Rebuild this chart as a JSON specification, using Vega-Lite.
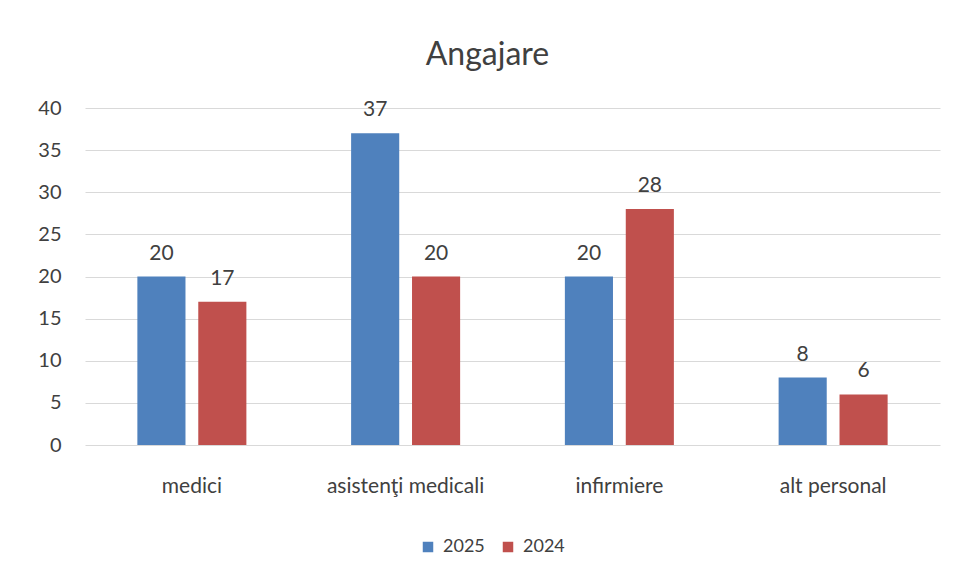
{
  "$schema": "https://vega.github.io/schema/vega-lite/v6.json",
  "width": 855,
  "height": 337,
  "autosize": "none",
  "padding": {"left": 85, "top": 108, "right": 16, "bottom": 135},
  "background": "white",
  "title": {
    "text": "Angajare",
    "font": "Lato",
    "fontSize": 32,
    "fontWeight": "normal",
    "color": "#404040",
    "anchor": "middle",
    "dx": -25,
    "offset": 26
  },
  "data": {
    "values": [
      {"categorie": "medici", "an": "2025", "valoare": 20},
      {"categorie": "medici", "an": "2024", "valoare": 17},
      {"categorie": "asistenţi medicali", "an": "2025", "valoare": 37},
      {"categorie": "asistenţi medicali", "an": "2024", "valoare": 20},
      {"categorie": "infirmiere", "an": "2025", "valoare": 20},
      {"categorie": "infirmiere", "an": "2024", "valoare": 28},
      {"categorie": "alt personal", "an": "2025", "valoare": 8},
      {"categorie": "alt personal", "an": "2024", "valoare": 6}
    ]
  },
  "encoding": {
    "x": {
      "field": "categorie",
      "type": "nominal",
      "sort": ["medici", "asistenţi medicali", "infirmiere", "alt personal"],
      "scale": {"paddingInner": 0.49, "paddingOuter": 0.245},
      "axis": {
        "title": null,
        "labelAngle": 0,
        "labelFont": "Lato",
        "labelFontSize": 21,
        "labelColor": "#404040",
        "labelPadding": 30,
        "ticks": false,
        "domain": false
      }
    },
    "xOffset": {
      "field": "an",
      "type": "nominal",
      "sort": ["2025", "2024"],
      "scale": {"paddingInner": 0.21, "paddingOuter": 0}
    },
    "y": {
      "field": "valoare",
      "type": "quantitative",
      "scale": {"domain": [0, 40]},
      "axis": {
        "title": null,
        "values": [0, 5, 10, 15, 20, 25, 30, 35, 40],
        "labelFont": "Lato",
        "labelFontSize": 20,
        "labelColor": "#404040",
        "labelPadding": 24,
        "ticks": false,
        "domain": false,
        "gridColor": "#D9D9D9",
        "gridWidth": 1
      }
    }
  },
  "layer": [
    {
      "mark": {"type": "bar", "stroke": null},
      "encoding": {
        "color": {
          "field": "an",
          "type": "nominal",
          "sort": ["2025", "2024"],
          "scale": {"domain": ["2025", "2024"], "range": ["#4F81BD", "#C0504D"]},
          "legend": {
            "title": null,
            "orient": "none",
            "direction": "horizontal",
            "legendX": 334,
            "legendY": 430,
            "symbolType": "square",
            "symbolSize": 110,
            "symbolStrokeWidth": 0,
            "labelFont": "Lato",
            "labelFontSize": 18,
            "labelColor": "#404040",
            "columnPadding": 14,
            "labelOffset": 6
          }
        }
      }
    },
    {
      "mark": {
        "type": "text",
        "baseline": "alphabetic",
        "dy": -17,
        "font": "Lato",
        "fontSize": 21,
        "color": "#404040"
      },
      "encoding": {
        "text": {"field": "valoare", "type": "quantitative"}
      }
    }
  ],
  "config": {
    "view": {"stroke": null}
  }
}
